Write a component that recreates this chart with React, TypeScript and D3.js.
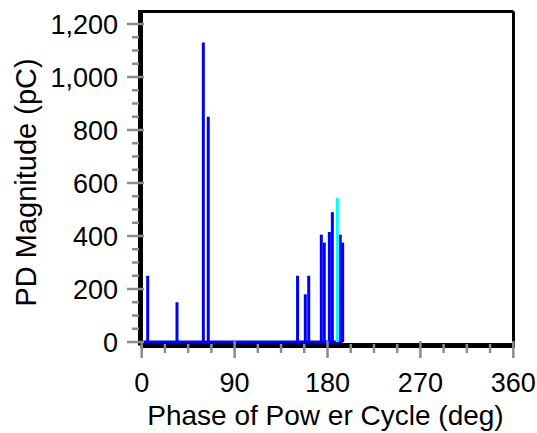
import React from 'react';
import * as d3 from 'd3';

// pulse data: phase (deg) and magnitude (pC)
const bluePhases = [5.8, 34.2, 59.7, 64.5, 151, 158.5, 161.8, 174, 176.9, 181.8, 184.7, 192.4, 194.7];
const blueMagnitudes = [250, 150, 1130, 850, 250, 180, 250, 405, 375, 415, 490, 405, 375];
const cyanPhases = [189.5];
const cyanMagnitudes = [545];

const xTicks = [0, 90, 180, 270, 360];
const yTicks = [0, 200, 400, 600, 800, 1000, 1200];

const width = 537;
const height = 433;
const frame = { left: 140.5, right: 513.5, top: 11.5, bottom: 345.5 };
const font = "'Liberation Sans', Arial, sans-serif";
const tickGray = '#8c8c8c';

const App = () => {
  const x = d3.scaleLinear().domain([0, 360]).range([141.7, 513.3]);
  const y = d3.scaleLinear().domain([0, 1200]).range([342, 24]);

  const xMinor = d3.range(0, 360.1, 22.5).filter((d) => !xTicks.includes(d));
  const yMinor = d3.range(0, 1200.1, 50).filter((d) => !yTicks.includes(d));
  const fmt = d3.format(',');

  const lastPhase = d3.max([...bluePhases, ...cyanPhases]) as number;

  const pulses = (phases: number[], mags: number[], color: string) =>
    phases.map((p, i) => (
      <line key={color + i} x1={x(p)} x2={x(p)} y1={y(0)} y2={y(mags[i])}
        stroke={color} strokeWidth={3} />
    ));

  return (
    <svg width={width} height={height} style={{ position: 'absolute', left: 0, top: 0, background: '#fff' }}>
      {/* frame */}
      <line x1={frame.left} x2={frame.right} y1={frame.top} y2={frame.top} stroke="#000" strokeWidth={3} />
      <line x1={frame.right} x2={frame.right} y1={frame.top} y2={frame.bottom} stroke="#000" strokeWidth={3} />
      <line x1={frame.left} x2={frame.right + 1.5} y1={frame.bottom} y2={frame.bottom} stroke="#000" strokeWidth={5} />
      <line x1={frame.left} x2={frame.left} y1={frame.top - 1.5} y2={frame.bottom} stroke="#000" strokeWidth={5} />

      {/* data */}
      <line x1={x(0) + 1.5} x2={x(lastPhase)} y1={y(0)} y2={y(0)} stroke="#0000ff" strokeWidth={3} />
      {pulses(bluePhases, blueMagnitudes, '#0000ff')}
      {pulses(cyanPhases, cyanMagnitudes, '#00ffff')}

      {/* y ticks */}
      {yMinor.map((d) => (
        <line key={'ym' + d} x1={132} x2={139} y1={y(d)} y2={y(d)} stroke={tickGray} strokeWidth={2.5} />
      ))}
      {yTicks.map((d) => (
        <g key={'y' + d}>
          <line x1={127} x2={144} y1={y(d)} y2={y(d)} stroke={tickGray} strokeWidth={2.5} />
          <text x={118} y={y(d)} dy="0.36em" textAnchor="end" fontFamily={font} fontSize={27}>{fmt(d)}</text>
        </g>
      ))}

      {/* x ticks */}
      {xMinor.map((d) => (
        <line key={'xm' + d} x1={x(d)} x2={x(d)} y1={344} y2={353} stroke={tickGray} strokeWidth={2.5} />
      ))}
      {xTicks.map((d) => (
        <g key={'x' + d}>
          <line x1={x(d)} x2={x(d)} y1={341} y2={358} stroke={tickGray} strokeWidth={2.5} />
          <text x={x(d)} y={392} textAnchor="middle" fontFamily={font} fontSize={27}>{d}</text>
        </g>
      ))}

      {/* axis titles */}
      <text x={325.5} y={425} textAnchor="middle" fontFamily={font} fontSize={28}>Phase of Pow er Cycle (deg)</text>
      <text transform="translate(36,182.5) rotate(-90)" textAnchor="middle" fontFamily={font} fontSize={29}>PD Magnitude (pC)</text>
    </svg>
  );
};

export default App;
